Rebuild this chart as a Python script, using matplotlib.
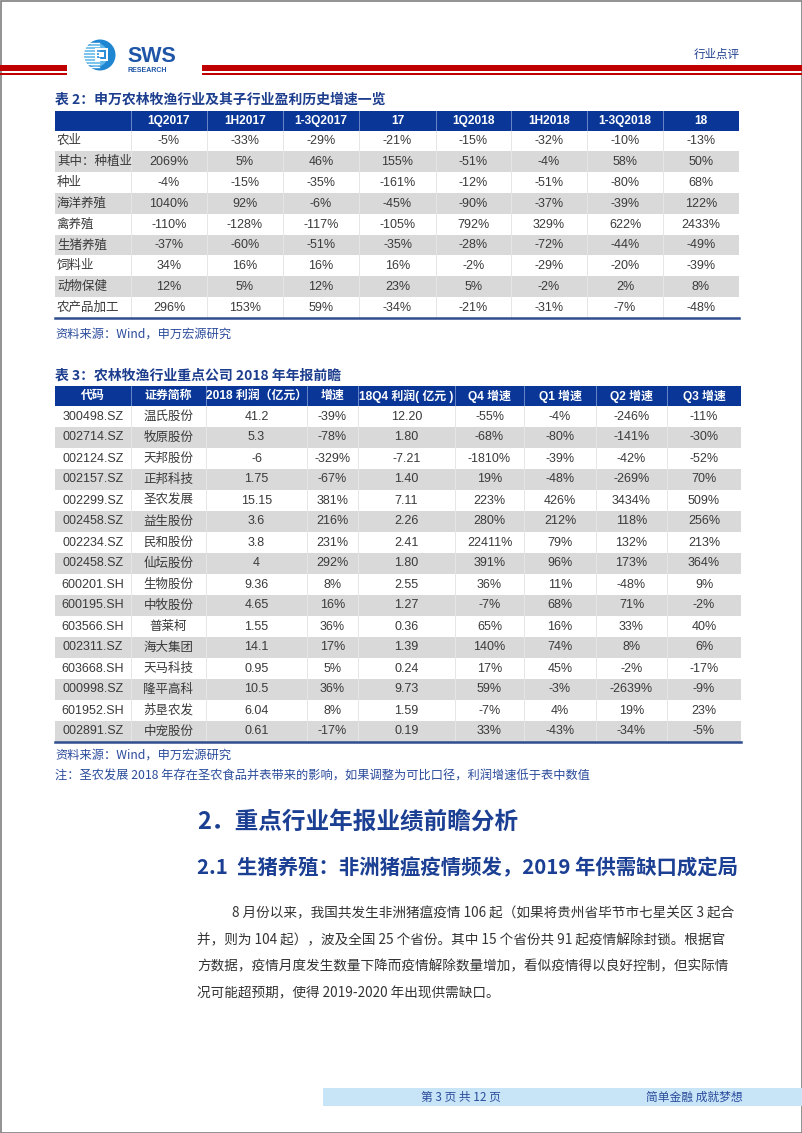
"""
Rebuild of the SWS research page 3 (agri sector earnings preview tables).
Everything is drawn on one full-page axes in pixel units.
"""

import matplotlib
matplotlib.use("Agg")
import matplotlib.pyplot as plt
from matplotlib.patches import Rectangle, Circle

plt.rcParams["font.family"] = ["Noto Sans CJK SC", "DejaVu Sans"]

W, H = 802, 1133
CELL_FONT = ["Liberation Sans", "Noto Sans CJK SC", "DejaVu Sans"]

# Colours
RED = "#c00000"
HEAD_BLUE = "#0a3797"
TITLE_BLUE = "#1d3e8e"
SRC_BLUE = "#2b4c9c"
GRAY_ROW = "#d9d9d9"
TEXT = "#3a3a3a"
FOOT_BAND = "#c8e5f8"

# Table 2: sector profit growth history
t2_header = ["", "1Q2017", "1H2017", "1-3Q2017", "17",
             "1Q2018", "1H2018", "1-3Q2018", "18"]
t2_sectors = ["农业", "其中：种植业", "种业", "海洋养殖", "禽养殖",
              "生猪养殖", "饲料业", "动物保健", "农产品加工"]
q1_2017 = ["-5%", "2069%", "-4%", "1040%", "-110%", "-37%", "34%", "12%", "296%"]
h1_2017 = ["-33%", "5%", "-15%", "92%", "-128%", "-60%", "16%", "5%", "153%"]
q13_2017 = ["-29%", "46%", "-35%", "-6%", "-117%", "-51%", "16%", "12%", "59%"]
fy_2017 = ["-21%", "155%", "-161%", "-45%", "-105%", "-35%", "16%", "23%", "-34%"]
q1_2018 = ["-15%", "-51%", "-12%", "-90%", "792%", "-28%", "-2%", "5%", "-21%"]
h1_2018 = ["-32%", "-4%", "-51%", "-37%", "329%", "-72%", "-29%", "-2%", "-31%"]
q13_2018 = ["-10%", "58%", "-80%", "-39%", "622%", "-44%", "-20%", "2%", "-7%"]
fy_2018 = ["-13%", "50%", "68%", "122%", "2433%", "-49%", "-39%", "8%", "-48%"]

# Table 3: key companies 2018 preview
t3_header = ["代码", "证券简称", "2018 利润（亿元）", "增速", "18Q4 利润( 亿元 )",
             "Q4 增速", "Q1 增速", "Q2 增速", "Q3 增速"]
codes = ["300498.SZ", "002714.SZ", "002124.SZ", "002157.SZ", "002299.SZ",
         "002458.SZ", "002234.SZ", "002458.SZ", "600201.SH", "600195.SH",
         "603566.SH", "002311.SZ", "603668.SH", "000998.SZ", "601952.SH",
         "002891.SZ"]
names = ["温氏股份", "牧原股份", "天邦股份", "正邦科技", "圣农发展", "益生股份",
         "民和股份", "仙坛股份", "生物股份", "中牧股份", "普莱柯", "海大集团",
         "天马科技", "隆平高科", "苏垦农发", "中宠股份"]
profit_2018 = ["41.2", "5.3", "-6", "1.75", "15.15", "3.6", "3.8", "4", "9.36",
               "4.65", "1.55", "14.1", "0.95", "10.5", "6.04", "0.61"]
growth_2018 = ["-39%", "-78%", "-329%", "-67%", "381%", "216%", "231%", "292%",
               "8%", "16%", "36%", "17%", "5%", "36%", "8%", "-17%"]
profit_q4 = ["12.20", "1.80", "-7.21", "1.40", "7.11", "2.26", "2.41", "1.80",
             "2.55", "1.27", "0.36", "1.39", "0.24", "9.73", "1.59", "0.19"]
growth_q4 = ["-55%", "-68%", "-1810%", "19%", "223%", "280%", "22411%", "391%",
             "36%", "-7%", "65%", "140%", "17%", "59%", "-7%", "33%"]
growth_q1 = ["-4%", "-80%", "-39%", "-48%", "426%", "212%", "79%", "96%",
             "11%", "68%", "16%", "74%", "45%", "-3%", "4%", "-43%"]
growth_q2 = ["-246%", "-141%", "-42%", "-269%", "3434%", "118%", "132%", "173%",
             "-48%", "71%", "33%", "8%", "-2%", "-2639%", "19%", "-34%"]
growth_q3 = ["-11%", "-30%", "-52%", "70%", "509%", "256%", "213%", "364%",
             "9%", "-2%", "40%", "6%", "-17%", "-9%", "23%", "-5%"]

paragraph = [
    "8 月份以来，我国共发生非洲猪瘟疫情 106 起（如果将贵州省毕节市七星关区 3 起合",
    "并，则为 104 起），波及全国 25 个省份。其中 15 个省份共 91 起疫情解除封锁。根据官",
    "方数据，疫情月度发生数量下降而疫情解除数量增加，看似疫情得以良好控制，但实际情",
    "况可能超预期，使得 2019-2020 年出现供需缺口。",
]


def draw_table(ax, top, head_h, row_h, edges, header, columns, first_left=False):
    x0, x1 = edges[0], edges[-1]
    ax.add_patch(Rectangle((x0, top), x1 - x0, head_h, color=HEAD_BLUE, lw=0))
    for i, label in enumerate(header):
        cx = (edges[i] + edges[i + 1]) / 2
        ax.text(cx, top + head_h / 2 + 0.5, label, ha="center", va="center",
                color="white", fontsize=8.6, fontweight="bold", family=CELL_FONT)
    n = len(columns[0])
    body = top + head_h
    for r in range(n):
        if r % 2 == 1:
            ax.add_patch(Rectangle((x0, body + r * row_h), x1 - x0, row_h,
                                   color=GRAY_ROW, lw=0))
    for e in edges[1:-1]:
        ax.plot([e, e], [top, body], color="#6a88c8", lw=0.7)
        ax.plot([e, e], [body, body + n * row_h], color="#e6e6e6", lw=0.7)
    for c, col in enumerate(columns):
        for r, v in enumerate(col):
            cy = body + (r + 0.5) * row_h + 0.5
            if c == 0 and first_left:
                ax.text(x0 + 2, cy, v, ha="left", va="center", color=TEXT,
                        fontsize=9, family=CELL_FONT)
            else:
                cx = (edges[c] + edges[c + 1]) / 2
                ax.text(cx, cy, v, ha="center", va="center", color=TEXT,
                        fontsize=9, family=CELL_FONT)
    ax.plot([x0, x1], [body + n * row_h, body + n * row_h], color="#2f4d8f", lw=1.8)


fig = plt.figure(figsize=(W / 100, H / 100), dpi=100)
ax = fig.add_axes([0, 0, 1, 1])
ax.set_xlim(0, W)
ax.set_ylim(H, 0)
ax.axis("off")

# Page border
ax.add_patch(Rectangle((0.5, 0.5), W - 1, H - 1, fill=False, ec="#7f7f7f", lw=1.2))

# Header bars
ax.add_patch(Rectangle((0, 65), 67, 5.5, color=RED, lw=0))
ax.add_patch(Rectangle((0, 73.2), 67, 1.5, color=RED, lw=0))
ax.add_patch(Rectangle((202, 65), W - 202, 5.5, color=RED, lw=0))
ax.add_patch(Rectangle((202, 73.2), W - 202, 1.5, color=RED, lw=0))
ax.text(717, 54, "行业点评", ha="center", va="center", color="#1d3e8e", fontsize=8.3)

# Logo
ax.add_patch(Circle((100, 55), 15.5, color="#1f86d2", lw=0))
ax.add_patch(Circle((96, 55), 12, color="#5fb8ea", lw=0))
for yy in range(43, 69, 3):
    ax.plot([84, 99], [yy, yy], color="white", lw=1.0)
ax.add_patch(Rectangle((95, 48), 13, 13, color="white", lw=0))
ax.add_patch(Rectangle((97, 50), 9, 9, color="#2a8fd8", lw=0))
ax.add_patch(Rectangle((99, 52), 5, 5, color="white", lw=0))
ax.text(127, 61.5, "SWS", ha="left", va="baseline", color="#1e55a6", fontsize=15.5,
        fontweight="bold", family=["Liberation Sans", "DejaVu Sans"])
ax.text(128, 72.5, "RESEARCH", ha="left", va="baseline", color="#1e55a6", fontsize=5,
        fontweight="bold", family=["Liberation Sans", "DejaVu Sans"])

# Table 2
ax.text(55, 100, "表 2：申万农林牧渔行业及其子行业盈利历史增速一览", ha="left",
        va="center", color=TITLE_BLUE, fontsize=10, fontweight="bold")
t2_edges = [55, 131, 207, 283, 359, 436, 511, 587, 663, 739]
draw_table(ax, 111, 19.5, 20.8, t2_edges, t2_header,
           [t2_sectors, q1_2017, h1_2017, q13_2017, fy_2017,
            q1_2018, h1_2018, q13_2018, fy_2018], first_left=True)
ax.text(55, 334, "资料来源：Wind，申万宏源研究", ha="left", va="center",
        color=SRC_BLUE, fontsize=8.8)

# Table 3
ax.text(55, 376, "表 3：农林牧渔行业重点公司 2018 年年报前瞻", ha="left",
        va="center", color=TITLE_BLUE, fontsize=10, fontweight="bold")
t3_edges = [55, 131, 206, 307, 358, 455, 524, 596, 667, 741]
draw_table(ax, 386, 19.5, 21.0, t3_edges, t3_header,
           [codes, names, profit_2018, growth_2018, profit_q4,
            growth_q4, growth_q1, growth_q2, growth_q3])
ax.text(55, 755, "资料来源：Wind，申万宏源研究", ha="left", va="center",
        color=SRC_BLUE, fontsize=8.8)
ax.text(55, 776, "注：圣农发展 2018 年存在圣农食品并表带来的影响，如果调整为可比口径，利润增速低于表中数值",
        ha="left", va="center", color=SRC_BLUE, fontsize=8.8)

# Section headings
ax.text(197, 822, "2．重点行业年报业绩前瞻分析", ha="left", va="center",
        color="#1b3f93", fontsize=17, fontweight="bold")
ax.text(197, 868, "2.1  生猪养殖：非洲猪瘟疫情频发，2019 年供需缺口成定局", ha="left",
        va="center", color="#1b3f93", fontsize=14.7, fontweight="bold")

# Body paragraph
line_y = [913, 940, 966, 993]
for i, (line, yy) in enumerate(zip(paragraph, line_y)):
    ax.text(232 if i == 0 else 197, yy, line, ha="left", va="center",
            color="#333333", fontsize=9.8)

# Footer
ax.add_patch(Rectangle((323, 1088), W - 323, 18, color=FOOT_BAND, lw=0))
ax.text(461, 1097, "第 3 页 共 12 页", ha="center", va="center", color="#2b4c9c", fontsize=8.5)
ax.text(694, 1097, "简单金融 成就梦想", ha="center", va="center", color="#2b4c9c", fontsize=8.5)

fig.savefig("out.png", dpi=100)
